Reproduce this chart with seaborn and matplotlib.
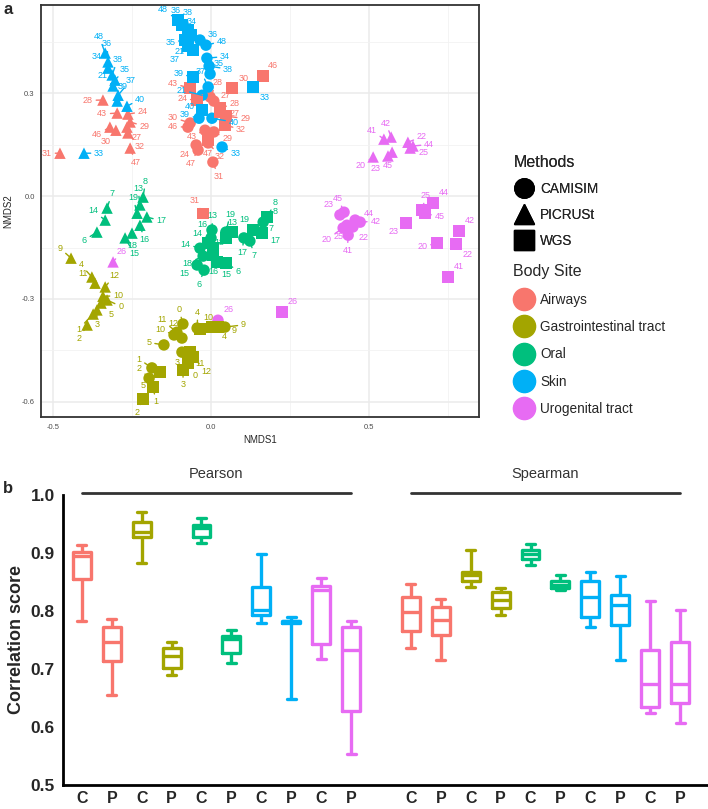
import numpy as np
import pandas as pd
import seaborn as sns
import matplotlib.pyplot as plt
from matplotlib.lines import Line2D


SITES = ['Airways', 'Gastrointestinal tract', 'Oral', 'Skin', 'Urogenital tract']
SITE_COLORS = ['#F8766D', '#A3A500', '#00BF7D', '#00B0F6', '#E76BF3']
METHODS = ['CAMISIM', 'PICRUSt', 'WGS']
MARKERS = {'CAMISIM': 'o', 'PICRUSt': '^', 'WGS': 's'}

# sample ids per body site (same order in every method list below)
airways_ids = [24, 27, 28, 29, 30, 31, 32, 43, 46, 47]
gi_ids = [0, 1, 2, 3, 4, 5, 9, 10, 11, 12]
oral_ids = [6, 7, 8, 13, 14, 15, 16, 17, 18, 19]
skin_ids = [21, 33, 34, 35, 36, 37, 38, 39, 40, 48]
uro_ids = [20, 22, 23, 25, 26, 41, 42, 44, 45]

camisim_nmds1 = [
    -0.047, 0.009, -0.003, 0.009, -0.066, 0.006, -0.009, -0.019, -0.073, -0.041,
    -0.089, -0.187, -0.196, -0.092, -0.044, -0.149, 0.044, -0.117, -0.108, -0.092,
    -0.022, 0.123, 0.165, 0.003, -0.035, -0.044, 0.000, 0.104, -0.025, 0.047,
    -0.028, 0.035, -0.013, -0.003, -0.035, -0.009, -0.006, -0.038, 0.003, -0.016,
    0.418, 0.449, 0.408, 0.430, 0.022, 0.434, 0.472, 0.456, 0.421]
camisim_nmds2 = [
    0.149, 0.277, 0.289, 0.187, 0.213, 0.099, 0.155, 0.192, 0.201, 0.134,
    -0.373, -0.501, -0.531, -0.455, -0.385, -0.434, -0.382, -0.405, -0.397, -0.414,
    -0.216, -0.131, -0.076, -0.099, -0.152, -0.201, -0.122, -0.122, -0.175, -0.105,
    0.294, 0.143, 0.402, 0.356, 0.455, 0.318, 0.379, 0.227, 0.227, 0.440,
    -0.093, -0.090, -0.055, -0.085, -0.362, -0.114, -0.076, -0.070, -0.047]

picrust_nmds1 = [
    -0.263, -0.266, -0.342, -0.256, -0.301, -0.478, -0.263, -0.297, -0.320, -0.256,
    -0.329, -0.373, -0.392, -0.361, -0.377, -0.348, -0.443, -0.342, -0.367, -0.335,
    -0.361, -0.329, -0.215, -0.225, -0.335, -0.272, -0.225, -0.203, -0.250, -0.234,
    -0.310, -0.402, -0.326, -0.304, -0.326, -0.294, -0.313, -0.297, -0.266, -0.335,
    0.513, 0.623, 0.560, 0.630, -0.310, 0.547, 0.570, 0.639, 0.573]
picrust_nmds2 = [
    0.239, 0.201, 0.280, 0.216, 0.192, 0.125, 0.184, 0.242, 0.201, 0.140,
    -0.303, -0.344, -0.376, -0.332, -0.236, -0.312, -0.181, -0.292, -0.254, -0.265,
    -0.105, -0.035, -0.003, -0.026, -0.070, -0.122, -0.085, -0.061, -0.108, -0.050,
    0.321, 0.125, 0.373, 0.338, 0.391, 0.294, 0.353, 0.277, 0.262, 0.417,
    0.114, 0.157, 0.117, 0.140, -0.192, 0.166, 0.172, 0.146, 0.128]

wgs_nmds1 = [
    -0.044, 0.028, 0.028, 0.047, 0.066, -0.025, 0.044, -0.066, 0.165, -0.009,
    -0.073, -0.184, -0.215, -0.089, 0.003, -0.161, 0.022, -0.035, -0.066, -0.057,
    0.047, 0.133, 0.177, 0.047, -0.009, 0.019, 0.006, 0.161, 0.006, 0.066,
    -0.057, 0.133, -0.063, -0.082, -0.092, -0.073, -0.073, -0.057, -0.028, -0.104,
    0.715, 0.775, 0.617, 0.668, 0.225, 0.750, 0.785, 0.703, 0.677]
wgs_nmds2 = [
    0.280, 0.245, 0.257, 0.233, 0.315, -0.050, 0.207, 0.315, 0.350, 0.163,
    -0.487, -0.557, -0.592, -0.507, -0.382, -0.513, -0.382, -0.388, -0.455, -0.469,
    -0.195, -0.099, -0.061, -0.122, -0.137, -0.192, -0.172, -0.108, -0.152, -0.105,
    0.426, 0.318, 0.469, 0.455, 0.499, 0.437, 0.484, 0.347, 0.251, 0.513,
    -0.137, -0.140, -0.079, -0.041, -0.338, -0.236, -0.102, -0.020, -0.050]

# panel b: min, q1, median, q3, max per body site
pearson_c = [[0.783, 0.856, 0.895, 0.901, 0.914],
             [0.883, 0.927, 0.937, 0.954, 0.971],
             [0.917, 0.928, 0.943, 0.948, 0.961],
             [0.779, 0.793, 0.802, 0.842, 0.898],
             [0.717, 0.743, 0.836, 0.843, 0.857]]
pearson_p = [[0.655, 0.713, 0.746, 0.773, 0.786],
             [0.690, 0.701, 0.722, 0.736, 0.747],
             [0.711, 0.727, 0.751, 0.757, 0.767],
             [0.648, 0.780, 0.782, 0.783, 0.789],
             [0.553, 0.628, 0.732, 0.773, 0.782]]
spearman_c = [[0.736, 0.766, 0.799, 0.825, 0.846],
              [0.842, 0.851, 0.862, 0.867, 0.905],
              [0.880, 0.890, 0.898, 0.905, 0.915],
              [0.773, 0.790, 0.825, 0.851, 0.868],
              [0.625, 0.635, 0.674, 0.732, 0.818]]
spearman_p = [[0.716, 0.759, 0.784, 0.807, 0.821],
              [0.793, 0.805, 0.819, 0.832, 0.840],
              [0.836, 0.839, 0.845, 0.851, 0.862],
              [0.716, 0.776, 0.810, 0.828, 0.860],
              [0.607, 0.642, 0.674, 0.747, 0.801]]


def build_nmds_frame():
    ids = [airways_ids, gi_ids, oral_ids, skin_ids, uro_ids]
    site_col = [s for s, l in zip(SITES, ids) for _ in l]
    sample_col = [i for l in ids for i in l]
    frames = []
    for m, xs, ys in [('CAMISIM', camisim_nmds1, camisim_nmds2),
                      ('PICRUSt', picrust_nmds1, picrust_nmds2),
                      ('WGS', wgs_nmds1, wgs_nmds2)]:
        frames.append(pd.DataFrame({'NMDS1': xs, 'NMDS2': ys, 'site': site_col,
                                    'method': m, 'sample': sample_col}))
    return pd.concat(frames, ignore_index=True)


def build_box_frame():
    rows = []
    for ci, (c_arr, p_arr) in enumerate([(pearson_c, pearson_p), (spearman_c, spearman_p)]):
        for si, site in enumerate(SITES):
            for mi, arr in enumerate([c_arr, p_arr]):
                slot = ci * 11 + si * 2 + mi
                for v in arr[si]:
                    rows.append({'slot': str(slot), 'site': site, 'score': v})
    return pd.DataFrame(rows)


def repel(pts, bbox, dist0=15, n_iter=300):
    # small force layout in pixel space, roughly like ggrepel
    n = len(pts)
    d = np.hypot(*(pts[:, None, :] - pts[None, :, :]).transpose(2, 0, 1))
    w = (d < 30).astype(float)
    ctr = (w @ pts) / w.sum(axis=1)[:, None]
    v = pts - ctr
    nrm = np.hypot(v[:, 0], v[:, 1])
    v[nrm < 1.5] = [0.7, 0.7]
    v = v / np.hypot(v[:, 0], v[:, 1])[:, None]
    home = pts + v * dist0
    lab = home.copy()
    for _ in range(n_iter):
        dl = lab[:, None, :] - lab[None, :, :]
        dl[..., 1] *= 1.4
        dd = np.hypot(dl[..., 0], dl[..., 1]) + np.eye(n) * 1e3
        push = np.clip(13 - dd, 0, None) / dd
        f = (dl * push[..., None]).sum(axis=1) * 0.25
        dp = lab[:, None, :] - pts[None, :, :]
        dpd = np.hypot(dp[..., 0], dp[..., 1]) + 1e-6
        pushp = np.clip(10 - dpd, 0, None) / dpd
        f += (dp * pushp[..., None]).sum(axis=1) * 0.3
        f += (home - lab) * 0.03
        lab = lab + f
        lab[:, 0] = np.clip(lab[:, 0], bbox.x0 + 6, bbox.x1 - 6)
        lab[:, 1] = np.clip(lab[:, 1], bbox.y0 + 5, bbox.y1 - 5)
    return lab


def plot_nmds(fig, df):
    ax = fig.add_axes([41/708, 1-417.3/809, (479-41)/708, (417.3-4.7)/809])
    pal = dict(zip(SITES, SITE_COLORS))
    ax.set_xlim(-0.538, 0.848)
    ax.set_ylim(-0.645, 0.558)
    ax.set_xticks([-0.5, 0.0, 0.5])
    ax.set_yticks([-0.6, -0.3, 0.0, 0.3])
    ax.set_xticks([-0.25, 0.25, 0.75], minor=True)
    ax.set_yticks([-0.45, -0.15, 0.15, 0.45], minor=True)
    ax.grid(which='major', color='#EBEBEB', lw=1.1)
    ax.grid(which='minor', color='#F2F2F2', lw=0.6)
    ax.set_axisbelow(True)

    sns.scatterplot(data=df, x='NMDS1', y='NMDS2', hue='site', style='method',
                    palette=pal, markers=MARKERS, s=68, linewidth=0,
                    legend=False, ax=ax, zorder=3)

    pts = ax.transData.transform(df[['NMDS1', 'NMDS2']].values)
    lab = ax.transData.inverted().transform(repel(pts, ax.bbox))
    for i, row in df.iterrows():
        ax.annotate(str(row['sample']), xy=(row['NMDS1'], row['NMDS2']),
                    xytext=lab[i], ha='center', va='center', fontsize=6.5,
                    color=pal[row['site']], zorder=4,
                    arrowprops=dict(arrowstyle='-', color=pal[row['site']], lw=1.0,
                                    shrinkA=0, shrinkB=0))

    for s in ax.spines.values():
        s.set_visible(True)
        s.set_color('#333333')
        s.set_linewidth(1.3)
    ax.tick_params(which='major', length=2.5, width=0.8, color='#333333',
                   labelsize=5.5, labelcolor='#4D4D4D', pad=2)
    ax.tick_params(which='minor', length=0)
    ax.set_xlabel('NMDS1', fontsize=7, labelpad=3)
    ax.set_ylabel('NMDS2', fontsize=7, labelpad=6)

    # legends
    m_handles = [Line2D([], [], marker=MARKERS[m], color='black', linestyle='',
                        markersize=14) for m in METHODS]
    s_handles = [Line2D([], [], marker='o', color=c, linestyle='', markersize=16)
                 for c in SITE_COLORS]
    kw = dict(loc='upper left', frameon=False, alignment='left', fontsize=9.8,
              title_fontsize=11.5, handletextpad=0.45,
              borderaxespad=0, handlelength=1.5)
    leg1 = fig.legend(m_handles, METHODS, title='Methods', labelspacing=0.86,
                      bbox_to_anchor=(508/708, 1-150/809), **kw)
    fig.legend(s_handles, SITES, title='Body Site', labelspacing=0.98,
               bbox_to_anchor=(508/708, 1-259/809), **kw)
    fig.add_artist(leg1)
    return ax


def plot_scores(fig, bdf):
    ax = fig.add_axes([63/708, 1-785/809, (707-63)/708, (785-495)/809])
    pal = dict(zip(SITES, SITE_COLORS))
    order = [str(i) for i in range(21)]
    sns.boxplot(data=bdf, x='slot', y='score', hue='site', order=order,
                hue_order=SITES, palette=pal, fill=False, dodge=False, width=0.6,
                whis=(0, 100), linewidth=2.4, legend=False, ax=ax)
    ax.set_ylim(0.5, 1.0)
    ax.set_xlim(-0.63, 20.9)
    ax.set_yticks([0.5, 0.6, 0.7, 0.8, 0.9, 1.0])
    ax.set_yticklabels(['0.5', '0.6', '0.7', '0.8', '0.9', '1.0'])
    ticks = [i for i in range(21) if i != 10]
    ax.set_xticks(ticks)
    ax.set_xticklabels(['C' if (i % 11) % 2 == 0 else 'P' for i in ticks])
    for lab in ax.get_xticklabels() + ax.get_yticklabels():
        lab.set_fontweight('bold')
    ax.tick_params(axis='both', length=4, width=2, color='black', direction='out')
    ax.tick_params(axis='x', labelsize=11.5, pad=0.5)
    ax.tick_params(axis='y', labelsize=12.5, pad=2)
    sns.despine(ax=ax)
    ax.spines['left'].set_linewidth(2)
    ax.spines['bottom'].set_linewidth(2)
    ax.spines['left'].set_color('black')
    ax.spines['bottom'].set_color('black')
    ax.set_xlabel('')
    ax.set_ylabel('Correlation score', fontsize=13, fontweight='bold', labelpad=4)

    for x0, x1, name in [(0, 9, 'Pearson'), (11, 20, 'Spearman')]:
        ax.plot([x0, x1], [1.004, 1.004], color='#333333', lw=2, clip_on=False)
        ax.text((x0 + x1) / 2, 1.037, name, ha='center', va='center',
                fontsize=10.5, color='#333333', clip_on=False)
    return ax


def main():
    sns.set_style('white')
    plt.rcParams['font.family'] = ['Liberation Sans', 'DejaVu Sans']
    plt.rcParams['axes.unicode_minus'] = False
    fig = plt.figure(figsize=(7.08, 8.09), dpi=100)
    plot_nmds(fig, build_nmds_frame())
    plot_scores(fig, build_box_frame())
    fig.text(8/708, 1-9/809, 'a', fontsize=12, fontweight='bold', ha='center', va='center')
    fig.text(8/708, 1-489/809, 'b', fontsize=12, fontweight='bold', ha='center', va='center')
    fig.savefig('out.png', dpi=100)


if __name__ == "__main__":
    main()
